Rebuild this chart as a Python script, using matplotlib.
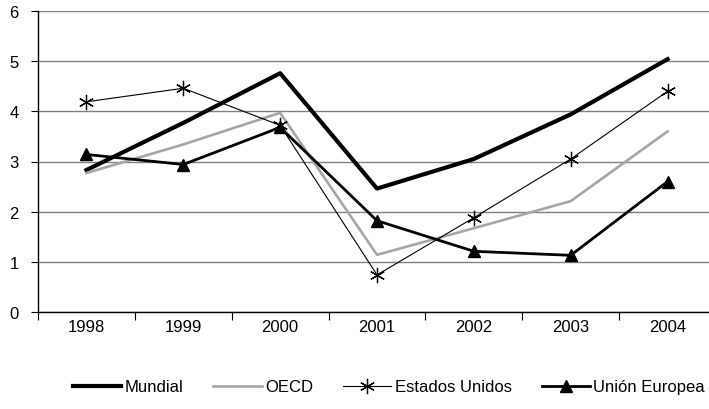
import matplotlib
matplotlib.use("Agg")
import matplotlib.pyplot as plt
from matplotlib.ticker import FixedLocator, NullFormatter

plt.rcParams['font.family'] = ['Liberation Sans', 'DejaVu Sans']

years = ['1998', '1999', '2000', '2001', '2002', '2003', '2004']
mundial = [2.83, 3.77, 4.76, 2.46, 3.05, 3.94, 5.04]
oecd = [2.77, 3.34, 3.97, 1.14, 1.67, 2.21, 3.60]
estados_unidos = [4.19, 4.46, 3.72, 0.74, 1.88, 3.05, 4.40]
union_europea = [3.14, 2.94, 3.68, 1.82, 1.21, 1.13, 2.60]

fig = plt.figure(figsize=(7.09, 4.10), dpi=100)
ax = fig.add_axes([38 / 709, 97 / 410, 678 / 709, 301 / 410])

x = list(range(len(years)))
ax.plot(x, mundial, color='black', lw=3.0, label='Mundial', zorder=3)
ax.plot(x, oecd, color='#a6a6a6', lw=1.9, label='OECD', zorder=3)
ax.plot(x, estados_unidos, color='black', lw=0.8, marker=(6, 2, 0), ms=11,
        mew=0.9, label='Estados Unidos', zorder=4)
ax.plot(x, union_europea, color='black', lw=2.0, marker='^', ms=8,
        label='Unión Europea', zorder=4)

ax.set_xlim(-0.5, len(years) - 0.5)
ax.set_ylim(0, 6)
ax.set_yticks(range(0, 7))
ax.yaxis.grid(True, color='#808080', lw=1.0)
ax.set_axisbelow(True)

ax.set_xticks(x)
ax.set_xticklabels(years)
ax.tick_params(axis='x', which='major', length=0, pad=5, labelsize=12)
ax.xaxis.set_minor_locator(FixedLocator([i - 0.5 for i in range(len(years) + 1)]))
ax.xaxis.set_minor_formatter(NullFormatter())
ax.tick_params(axis='x', which='minor', length=6, width=0.8)
ax.tick_params(axis='y', length=5, width=0.8, pad=9, labelsize=12)

for s in ['top', 'right']:
    ax.spines[s].set_visible(False)
ax.spines['left'].set_linewidth(1.0)
ax.spines['bottom'].set_linewidth(1.0)

fig.legend(loc='center', bbox_to_anchor=(389 / 709, 1 - 388 / 410), ncol=4,
           frameon=False, fontsize=12, handlelength=2.9, handletextpad=0.2,
           columnspacing=1.8)

fig.savefig('out.png', dpi=100)
